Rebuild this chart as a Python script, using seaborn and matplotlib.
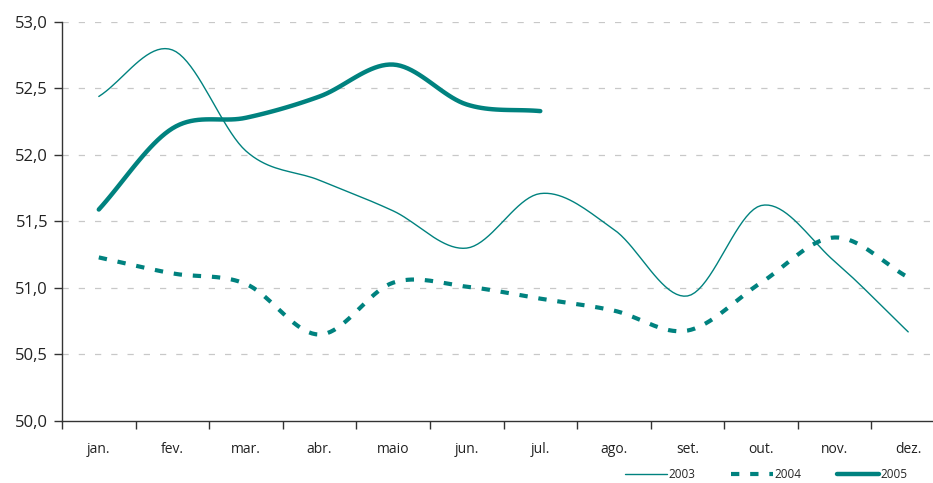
import numpy as np
import pandas as pd
import matplotlib
matplotlib.use("Agg")
import matplotlib.pyplot as plt
import seaborn as sns

sns.set_theme(style="white")
plt.rcParams["font.family"] = ["Open Sans", "DejaVu Sans"]

teal = "#00827F"

months = ["jan.", "fev.", "mar.", "abr.", "maio", "jun.", "jul.",
          "ago.", "set.", "out.", "nov.", "dez."]
y2003 = [52.44, 52.79, 52.03, 51.81, 51.58, 51.30, 51.71, 51.44, 50.94, 51.62, 51.20, 50.67]
y2004 = [51.23, 51.11, 51.03, 50.65, 51.04, 51.01, 50.92, 50.83, 50.68, 51.04, 51.38, 51.08]
y2005 = [51.59, 52.20, 52.28, 52.44, 52.68, 52.38, 52.33]
yticks = [50.0, 50.5, 51.0, 51.5, 52.0, 52.5, 53.0]


def smooth(vals, n=20):
    # Catmull-Rom style smoothing, like the spreadsheet's "smoothed line"
    p = np.asarray(vals, dtype=float)
    x = np.arange(len(p), dtype=float)
    pp = np.concatenate([[2 * p[0] - p[1]], p, [2 * p[-1] - p[-2]]])
    xs, ys = [], []
    for i in range(len(p) - 1):
        p0, p1, p2, p3 = pp[i], pp[i + 1], pp[i + 2], pp[i + 3]
        t = np.linspace(0, 1, n, endpoint=False)
        yy = 0.5 * ((2 * p1) + (-p0 + p2) * t + (2 * p0 - 5 * p1 + 4 * p2 - p3) * t ** 2
                    + (-p0 + 3 * p1 - 3 * p2 + p3) * t ** 3)
        xs.append(x[i] + t)
        ys.append(yy)
    xs.append([x[-1]])
    ys.append([p[-1]])
    return np.concatenate(xs), np.concatenate(ys)


fig = plt.figure(figsize=(9.33, 4.83), dpi=100)
ax = fig.add_axes([62 / 933, 62 / 483, 883 / 933, 399 / 483])

x3, s3 = smooth(y2003)
x4, s4 = smooth(y2004)
x5, s5 = smooth(y2005)

sns.lineplot(x=x3, y=s3, ax=ax, color=teal, lw=1.0, sort=False, label="2003")
sns.lineplot(x=x4, y=s4, ax=ax, color=teal, lw=3.0, sort=False, label="2004",
             dashes=False)
ax.lines[-1].set_dashes([2.0, 2.6])
sns.lineplot(x=x5, y=s5, ax=ax, color=teal, lw=3.2, sort=False, label="2005")
ax.get_legend().remove()

ax.set_xlim(-0.5, 11.5)
ax.set_ylim(50.0, 53.0)
ax.set_yticks(yticks)
ax.set_yticklabels([f"{v:.1f}".replace(".", ",") for v in yticks], fontsize=12, color="#222222")
ax.set_xticks(np.arange(-0.5, 11.6, 1.0))
ax.set_xticklabels([])
ax.set_xticks(np.arange(12), minor=True)
ax.set_xticklabels(months, minor=True, fontsize=10, color="#222222")
ax.tick_params(axis="x", which="minor", length=0, pad=15)
ax.tick_params(axis="x", which="major", length=6, width=1, color="#333333", direction="out")
ax.tick_params(axis="y", length=6, width=1, color="#333333", direction="out", pad=4)
ax.xaxis.set_ticks_position("bottom")
ax.yaxis.set_ticks_position("left")

for v in yticks[1:]:
    ax.axhline(v, color="#c8c8c8", lw=0.9, ls=(0, (5, 8)), zorder=0)

sns.despine(ax=ax, top=True, right=True)
ax.spines["left"].set_color("#333333")
ax.spines["bottom"].set_color("#333333")
ax.spines["left"].set_linewidth(1.0)
ax.spines["bottom"].set_linewidth(1.0)

handles = [plt.Line2D([], [], color=teal, lw=1.0),
           plt.Line2D([], [], color=teal, lw=3.0, dashes=[2.0, 2.6]),
           plt.Line2D([], [], color=teal, lw=3.2)]
fig.legend(handles, ["2003", "2004", "2005"], loc="lower right",
           bbox_to_anchor=(918 / 933, -0.018), ncol=3, frameon=False,
           fontsize=8.5, handlelength=3.6, handletextpad=0.1, columnspacing=3.0)

fig.savefig("out.png", dpi=100)
